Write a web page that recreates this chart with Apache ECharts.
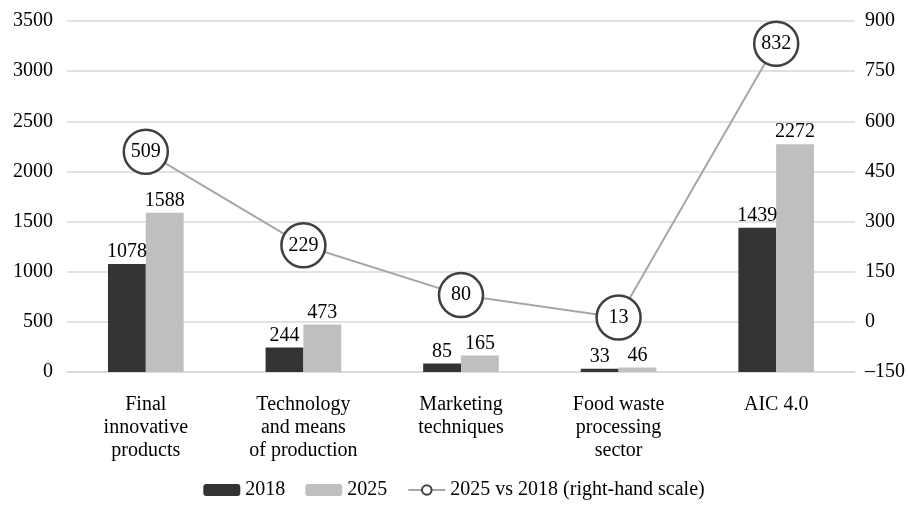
<!DOCTYPE html>
<html>
<head>
<meta charset="utf-8">
<script src="https://cdn.jsdelivr.net/npm/echarts@6/dist/echarts.min.js"></script>
<style>
  html, body { margin: 0; padding: 0; background: #fff; }
  #chart { width: 908px; height: 505px; }
</style>
</head>
<body>
<div id="chart"></div>
<script>
// data
const categories = [
  'Final\ninnovative\nproducts',
  'Technology\nand means\nof production',
  'Marketing\ntechniques',
  'Food waste\nprocessing\nsector',
  'AIC 4.0'
]
const values2018 = [1078, 244, 85, 33, 1439]
const values2025 = [1588, 473, 165, 46, 2272]
const growth = [509, 229, 80, 13, 832]

const serif = '"Liberation Serif", "Times New Roman", serif'

const chart = echarts.init(document.getElementById('chart'))
const option = {
  animation: false,
  textStyle: { fontFamily: serif, color: '#000' },
  grid: { left: 67, right: 53, top: 21, bottom: 133, outerBoundsMode: 'none' },
  legend: {
    bottom: 0,
    left: 'center',
    itemWidth: 37,
    itemHeight: 12,
    itemGap: 20,
    textStyle: { fontFamily: serif, fontSize: 20, color: '#000' },
    data: ['2018', '2025', '2025 vs 2018 (right-hand scale)']
  },
  xAxis: {
    type: 'category',
    data: categories,
    axisLine: { lineStyle: { color: '#d9d9d9', width: 1.5 } },
    axisTick: { show: false },
    axisLabel: {
      interval: 0,
      margin: 21,
      fontFamily: serif,
      fontSize: 20,
      lineHeight: 23,
      color: '#000'
    }
  },
  yAxis: [
    {
      type: 'value',
      min: 0,
      max: 3500,
      interval: 500,
      axisLine: { show: false },
      axisTick: { show: false },
      splitLine: { lineStyle: { color: '#d9d9d9', width: 1.5 } },
      axisLabel: {
        margin: 14,
        fontFamily: serif,
        fontSize: 20,
        color: '#000',
        formatter: v => String(v)
      }
    },
    {
      type: 'value',
      min: -150,
      max: 900,
      interval: 150,
      axisLine: { show: false },
      axisTick: { show: false },
      splitLine: { show: false },
      axisLabel: {
        margin: 10,
        fontFamily: serif,
        fontSize: 20,
        color: '#000',
        formatter: v => String(v).replace('-', '\u2013')
      }
    }
  ],
  series: [
    {
      name: '2018',
      type: 'bar',
      data: values2018,
      barGap: '0%',
      barCategoryGap: '52%',
      itemStyle: { color: '#333333' },
      label: { show: true, position: 'top', distance: 2, fontFamily: serif, fontSize: 20, color: '#000' }
    },
    {
      name: '2025',
      type: 'bar',
      data: values2025,
      itemStyle: { color: '#bfbfbf' },
      label: { show: true, position: 'top', distance: 2, fontFamily: serif, fontSize: 20, color: '#000' }
    },
    {
      name: '2025 vs 2018 (right-hand scale)',
      type: 'line',
      yAxisIndex: 1,
      data: growth,
      symbol: 'circle',
      symbolSize: 44,
      lineStyle: { color: '#a6a6a6', width: 2 },
      itemStyle: { color: '#fff', borderColor: '#404040', borderWidth: 2.5 },
      label: { show: true, position: 'inside', fontFamily: serif, fontSize: 20, color: '#000' },
      z: 5
    }
  ]
}
chart.setOption(option)
window.addEventListener('resize', function () {
  chart.resize()
})
</script>
</body>
</html>
